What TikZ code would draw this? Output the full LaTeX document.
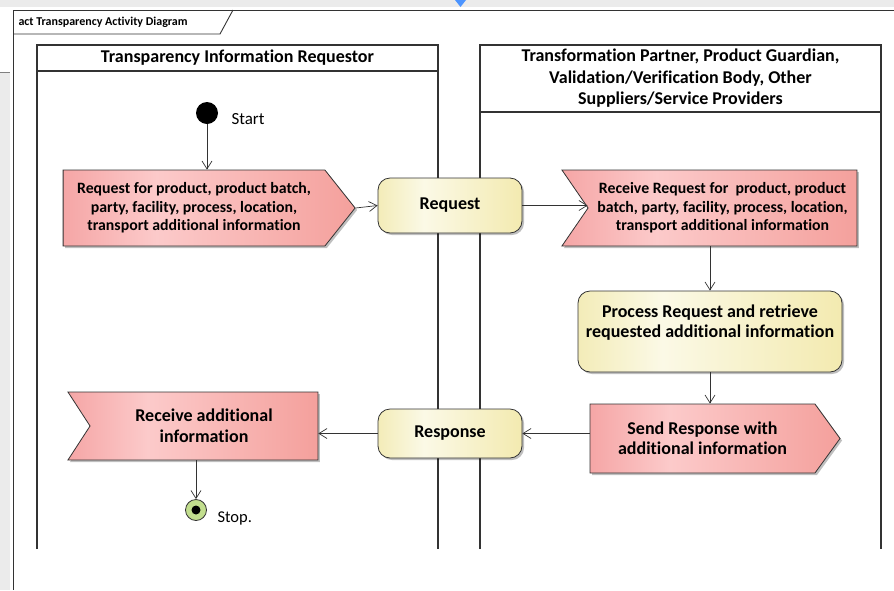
\documentclass[tikz,border=0pt]{standalone}
\usepackage{fontspec}
\setmainfont{Carlito}[Ligatures={NoCommon,NoContextual}]
\usetikzlibrary{arrows.meta}
\usetikzlibrary{shapes.symbols}
\usetikzlibrary{shadows}
\definecolor{sig-left}{HTML}{F5A6A6}
\definecolor{sig-mid}{HTML}{FCCACA}
\definecolor{sig-right}{HTML}{F4A09C}
\definecolor{act-left}{HTML}{F3ECB8}
\definecolor{act-mid}{HTML}{FBF9E6}
\definecolor{act-right}{HTML}{F3EAB0}
\definecolor{edge-gray}{gray}{0.2}
\definecolor{screen-gray}{gray}{0.92}
\definecolor{stop-green}{HTML}{C2DE8E}
% shadings: the node's width is mapped onto 25bp--75bp
\pgfdeclarehorizontalshading{sigshade}{100bp}{color(0bp)=(sig-left); color(25bp)=(sig-left); color(41bp)=(sig-mid); color(75bp)=(sig-right); color(100bp)=(sig-right)}
\pgfdeclarehorizontalshading{actshade}{100bp}{color(0bp)=(act-left); color(25bp)=(act-left); color(41bp)=(act-mid); color(75bp)=(act-right); color(100bp)=(act-right)}
\tikzstyle{lane}=[draw=edge-gray,line width=1.3pt]
\tikzstyle{laneheader}=[font=\bfseries\fontsize{18}{21.5}\selectfont,align=center]
\tikzstyle{flow}=[draw=edge-gray,line width=0.7pt,-{Straight Barb[length=8pt,width=10pt,line width=0.7pt]}]
\tikzstyle{boxshadow}=[drop shadow={shadow xshift=2pt,shadow yshift=-2pt,opacity=0.25,fill=black}]
\tikzstyle{action}=[draw=edge-gray,line width=0.8pt,rounded corners=12pt,shading=actshade,align=center,inner sep=0pt,font=\bfseries\fontsize{18}{20}\selectfont,boxshadow]
\tikzstyle{sigbase}=[signal,draw=edge-gray,line width=0.8pt,shading=sigshade,align=center,inner sep=0pt,boxshadow]
\tikzstyle{sendsig}=[sigbase,signal to=east,signal from=nowhere]
\tikzstyle{acceptsig}=[sigbase,signal to=nowhere,signal from=west]
\newcommand{\drawlane}[5]{% left, right, header bottom, name, header text
  \draw[lane] (#1,549) -- (#1,45) -- (#2,45) -- (#2,549);
  \draw[lane] (#1,#3) -- (#2,#3);
  \node[laneheader] (#4) at ({(#1+#2)/2},{(45+#3)/2}) {#5};
}
\begin{document}
\begin{tikzpicture}[x=1pt,y=-1pt]
  \useasboundingbox (0,0) rectangle (894,590);
  % screen background around the frame
  \fill[screen-gray] (0,0) rectangle (894,7);
  \fill[screen-gray] (0,73) rectangle (10,590);
  \draw[gray,line width=1pt] (0,72) -- (10,72);
  \fill[blue!60!cyan!70] (455,0) -- (466,0) -- (460.5,7) -- cycle;

  % diagram frame
  \draw[edge-gray,line width=0.9pt] (894,10) -- (13,10) -- (13,590);
  \draw[edge-gray,line width=0.9pt] (13,34) -- (220,34) -- (233,10);
  \node[anchor=west,font=\bfseries\fontsize{12}{14}\selectfont] (title) at (15,22) {act Transparency Activity Diagram};

  % swimlanes
  \drawlane{37}{438}{71}{requestor}{Transparency Information Requestor}
  \drawlane{480}{881}{112}{partner}{Transformation Partner, Product Guardian,\\Validation/Verification Body, Other\\Suppliers/Service Providers}

  % start and stop
  \node[circle,fill=black,minimum size=22pt,inner sep=0pt] (start) at (207,113) {};
  \node[anchor=west,font=\fontsize{17}{19}\selectfont] (startlabel) at (228,119) {Start};
  \node[circle,draw=edge-gray,line width=0.8pt,fill=stop-green,minimum size=21pt,inner sep=0pt] (stop) at (196,510) {};
  \node[circle,fill=black,minimum size=9pt,inner sep=0pt] (stopdot) at (stop) {};
  \node[anchor=west,font=\fontsize{16.5}{19}\selectfont] (stoplabel) at (214,518) {Stop.};

  % signals (node centre = centre of the body, pointer outside)
  \node[sendsig,minimum width=292pt,minimum height=76pt,signal pointer angle=103,font=\bfseries\fontsize{15.8}{18.5}\selectfont] (reqsig) at (194,208)
    {Request for product, product batch,\\party, facility, process, location,\\transport additional information};
  \node[acceptsig,minimum width=295pt,minimum height=76pt,signal pointer angle=111,font=\bfseries\fontsize{15.8}{18.5}\selectfont] (recvreq) at (722.5,208)
    {Receive Request for~~product, product\\batch, party, facility, process, location,\\transport additional information};
  \node[sendsig,minimum width=250pt,minimum height=69pt,signal pointer angle=108,font=\bfseries\fontsize{18}{20}\selectfont] (sendresp) at (702.5,438.5)
    {Send Response with\\additional information};
  \node[acceptsig,minimum width=250pt,minimum height=68pt,signal pointer angle=114,font=\bfseries\fontsize{18}{21}\selectfont] (recvadd) at (204,426)
    {Receive additional\\information};

  % actions
  \node[action,minimum width=144pt,minimum height=55pt] (request) at (450,205.5) {Request};
  \node[action,minimum width=264pt,minimum height=81pt] (process) at (710,331.5)
    {Process Request and retrieve\\requested additional information\\ \mbox{}};
  \node[action,minimum width=144pt,minimum height=49pt] (response) at (450,433.5) {Response};

  % control flows
  \draw[flow] (start) -- (start |- reqsig.north);
  \draw[flow] (reqsig.east) -- (request.west);
  \draw[flow] (request.east) -- (request.east -| recvreq.west);
  \draw[flow] (recvreq.south -| process.north) -- (process.north);
  \draw[flow] (process.south) -- (process.south |- sendresp.north);
  \draw[flow] (response.east -| sendresp.west) -- (response.east);
  \draw[flow] (response.west) -- (response.west -| recvadd.east);
  \draw[flow] (recvadd.south -| stop) -- (stop);
\end{tikzpicture}
\end{document}
